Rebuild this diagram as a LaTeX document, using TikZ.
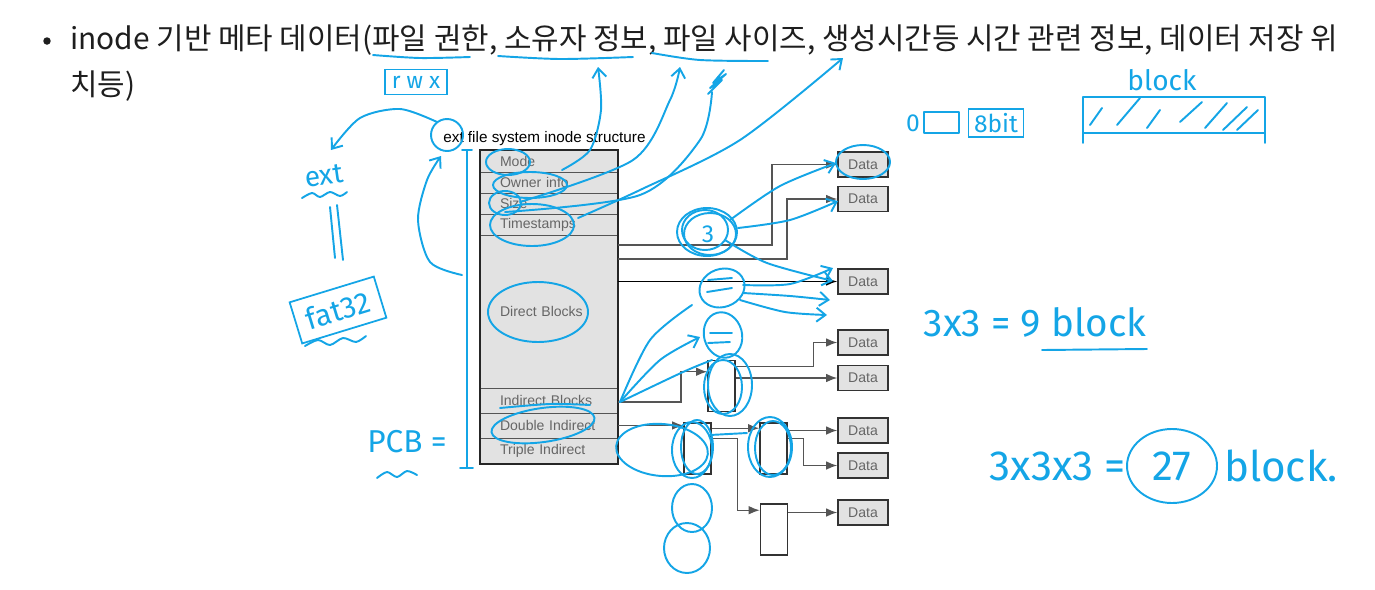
\documentclass[tikz,border=0pt]{standalone}
\usepackage{fontspec}
\setmainfont{Liberation Sans}
\newfontfamily\krfont{Noto Sans CJK KR}
\newfontfamily\handfont{Fira Sans}
\usetikzlibrary{arrows.meta,positioning,fit}
\definecolor{handblue}{RGB}{20,165,230}
\definecolor{rowgray}{RGB}{226,226,226}
\definecolor{linegray}{RGB}{85,85,85}
\definecolor{inktext}{RGB}{30,30,30}
\tikzset{
  inoderow/.style={rectangle,draw=linegray,fill=rowgray,minimum width=2.76cm,outer sep=0pt,
    inner xsep=0.4cm,inner ysep=1pt,text width=1.96cm,align=left,
    font=\fontsize{8}{9}\selectfont,text=black!60},
  databox/.style={rectangle,draw=black!80,line width=0.9pt,fill=rowgray,minimum width=1.0cm,
    minimum height=0.5cm,inner sep=0pt,font=\fontsize{8}{9}\selectfont,text=black!60},
  ptrbox/.style={rectangle,draw=black!80,line width=0.9pt,fill=white,minimum width=0.54cm,
    minimum height=1.02cm,inner sep=0pt},
  conn/.style={draw=linegray,line width=0.7pt,-{Latex[length=2.2mm,width=1.7mm]}},
  hand/.style={draw=handblue,line width=1.1pt,line cap=round,line join=round},
  handarr/.style={hand,-{Straight Barb[length=1.8mm,width=2.8mm]}},
  handtext/.style={text=handblue,inner sep=1pt},
  handbox/.style={handtext,draw=handblue,line width=1pt}
}

\begin{document}
\begin{tikzpicture}[x=0.02cm,y=-0.02cm]
  \useasboundingbox (0,0) rectangle (1375,589);

  % header line
  \node[circle,fill=inktext,inner sep=0pt,minimum size=0.15cm] (bullet) at (47,41) {};
  \node[anchor=west,inner sep=0pt,text=inktext,font=\krfont\fontsize{17}{20}\selectfont] (hdrA) at (70,40)
      {inode 기반 메타 데이터(파일 권한, 소유자 정보, 파일 사이즈, 생성시간등 시간 관련 정보, 데이터 저장 위};
  \node[anchor=west,inner sep=0pt,text=inktext,font=\krfont\fontsize{17}{20}\selectfont] (hdrB) at (70,86) {치등)};

  % inode table
  \node[anchor=base west,inner sep=0pt,font=\fontsize{8.7}{10}\selectfont] (title) at (443,142) {ext file system inode structure};
  \node[inoderow,minimum height=0.44cm,anchor=north west] (mode) at (480,150) {Mode};
  \node[inoderow,minimum height=0.42cm,below=0pt of mode] (owner) {Owner info};
  \node[inoderow,minimum height=0.42cm,below=0pt of owner] (size) {Size};
  \node[inoderow,minimum height=0.42cm,below=0pt of size] (time) {Timestamps};
  \node[inoderow,minimum height=3.06cm,below=0pt of time] (direct) {Direct Blocks};
  \node[inoderow,minimum height=0.5cm,below=0pt of direct] (indirect) {Indirect Blocks};
  \node[inoderow,minimum height=0.5cm,below=0pt of indirect] (double) {Double Indirect};
  \node[inoderow,minimum height=0.52cm,below=0pt of double] (triple) {Triple Indirect};
  \node[draw=black!85,line width=1.3pt,fit=(mode)(triple),inner sep=0pt] (inode) {};

  % data and pointer blocks
  \node[databox] (d1) at (863,164.5) {Data};
  \node[databox] (d2) at (863,199) {Data};
  \node[databox] (d3) at (863,281.5) {Data};
  \node[databox] (d4) at (863,342.5) {Data};
  \node[databox] (d5) at (863,378) {Data};
  \node[databox] (d6) at (863,430.5) {Data};
  \node[databox] (d7) at (863,465.5) {Data};
  \node[databox] (d8) at (863,512.5) {Data};
  \node[ptrbox] (ib) at (721.5,386) {};
  \node[ptrbox] (dbl1) at (697.5,448.5) {};
  \node[ptrbox] (dbl2) at (773.5,448.5) {};
  \node[ptrbox] (dbl3) at (774,529.5) {};

  \draw[conn] ([yshift=-0.2cm]direct.north east) -- ++(154,0) |- (d1.west);
  \draw[conn] ([yshift=-0.48cm]direct.north east) -- ++(169,0) |- (d2.west);
  \draw[conn,draw=black] (direct.east |- d3.west) -- (d3.west);
  \draw[conn] ([yshift=-0.03cm]indirect.east) -- ++(63,0) |- ([yshift=-0.24cm]ib.north west);
  \draw[conn] ([yshift=-0.14cm]ib.north east) -- ++(78,0) |- (d4.west);
  \draw[conn] (ib.east |- d5.west) -- (d5.west);
  \draw[conn] (double.east) -- (double.east -| dbl1.west);
  \draw[conn] ([yshift=-0.12cm]dbl1.north east) -- ([yshift=-0.12cm]dbl2.north west);
  \draw[conn] (dbl2.east |- d6.west) -- (d6.west);
  \draw[conn] ([yshift=-0.32cm]dbl2.north east) -- ++(16,0) |- (d7.west);
  \draw[conn] ([yshift=-0.32cm]dbl1.north east) -- ++(26,0) |- ([yshift=-0.14cm]dbl3.north west);
  \draw[conn] (dbl3.east |- d8.west) -- (d8.west);

  % handwritten notes: header
  \draw[hand] plot[smooth] coordinates {(373,55) (420,58) (470,57)};
  \node[handbox,minimum width=1.24cm,minimum height=0.5cm,font=\handfont\fontsize{13}{13}\selectfont] (rwx) at (416,82) {r w x};
  \draw[hand] plot[smooth] coordinates {(498,56) (560,59) (633,57)};
  \draw[hand] plot[smooth] coordinates {(652,53) (700,60) (768,61)};
  \draw[handarr] plot[smooth] coordinates {(562,170) (590,150) (601,110) (598,67)};
  \draw[handarr] plot[smooth] coordinates {(520,202) (633,160) (670,100) (680,67)};
  \draw[hand] plot[smooth] coordinates {(505,212) (640,195) (700,140) (712,92)};
  \draw[hand] (708,94) -- (722,80) -- (710,88) -- (726,74) -- (713,83) -- (724,70);
  \draw[handarr] plot[smooth] coordinates {(578,218) (640,190) (740,140) (843,58)};

  % circled table rows
  \draw[hand] (508,162) ellipse [x radius=22,y radius=13];
  \draw[hand] (530,185) ellipse [x radius=37,y radius=13];
  \draw[hand] (505,203) ellipse [x radius=16,y radius=12];
  \draw[hand] (532,225) ellipse [x radius=42,y radius=21];
  \draw[hand] (538,312) ellipse [x radius=50,y radius=30];
  \draw[hand] plot[smooth] coordinates {(500,408) (550,404) (590,405)};
  \draw[hand,rotate around={8:(543,425)}] (543,425) ellipse [x radius=52,y radius=17];

  % left side notes
  \draw[hand] (447,135) circle [radius=16];
  \draw[handarr] plot[smooth] coordinates {(437,122) (400,109) (360,118) (331,150)};
  \node[handtext,rotate=8,font=\handfont\fontsize{16}{16}\selectfont] (extnote) at (324,176) {ext};
  \draw[hand] plot[smooth] coordinates {(302,198) (312,193) (320,197) (330,192) (340,196) (347,192)};
  \draw[hand] (330,207) -- (335,258);
  \draw[hand] (337,205) -- (343,260);
  \node[handbox,rotate=17,minimum width=1.76cm,minimum height=0.86cm,font=\handfont\fontsize{17}{17}\selectfont] (fatnote) at (338,310) {fat32};
  \draw[hand] plot[smooth] coordinates {(305,346) (318,340) (330,345) (343,338) (356,342) (366,336)};
  \draw[handarr] plot[smooth] coordinates {(462,275) (430,262) (418,220) (427,180) (441,156)};
  \draw[hand] (467,150) -- (467,468);
  \draw[hand] (462,150) -- (472,150);
  \draw[hand] (460,468) -- (473,468);
  \node[handtext,font=\handfont\fontsize{18}{18}\selectfont] (pcb) at (407,442) {PCB =};
  \draw[hand] plot[smooth] coordinates {(377,478) (387,472) (397,477) (407,471) (417,475)};

  % notes on direct blocks
  \draw[hand] (707,232) ellipse [x radius=30,y radius=24];
  \draw[hand] (710,234) ellipse [x radius=26,y radius=21];
  \draw[hand] (705,230) ellipse [x radius=23,y radius=20];
  \node[handtext,font=\handfont\fontsize{14}{14}\selectfont] (three) at (708,234) {3};
  \draw[handarr] plot[smooth] coordinates {(730,220) (780,186) (836,163)};
  \draw[handarr] plot[smooth] coordinates {(738,228) (790,220) (838,201)};
  \draw[handarr] plot[smooth] coordinates {(725,240) (767,263) (833,281)};
  \draw[hand] (863,162) ellipse [x radius=27,y radius=17];
  \draw[hand,rotate around={20:(722,288)}] (722,288) ellipse [x radius=23,y radius=19];
  \draw[hand] (708,280) -- (732,278);
  \draw[hand] (707,292) -- (732,288);
  \draw[handarr] plot[smooth] coordinates {(743,285) (790,284) (833,268)};
  \draw[handarr] plot[smooth] coordinates {(743,293) (790,296) (830,300)};
  \draw[handarr] plot[smooth] coordinates {(740,300) (785,312) (827,315)};
  \draw[hand,rotate around={15:(723,335)}] (723,335) ellipse [x radius=19,y radius=23];
  \draw[hand] (710,333) -- (732,333);
  \draw[hand] (708,343) -- (730,342);
  \draw[hand] plot[smooth] coordinates {(620,402) (650,340) (692,305)};
  \draw[handarr] plot[smooth] coordinates {(620,402) (660,360) (700,337)};
  \draw[hand] plot[smooth] coordinates {(620,402) (683,372) (712,360)};

  % notes on indirect blocks
  \draw[hand] (723,387) ellipse [x radius=19,y radius=27];
  \draw[hand] (730,385) ellipse [x radius=22,y radius=31];
  \draw[hand] (692,450) ellipse [x radius=20,y radius=28];
  \draw[hand] (697,447) ellipse [x radius=16,y radius=27];
  \draw[hand,rotate around={-5:(662,450)}] (662,450) ellipse [x radius=46,y radius=26];
  \draw[hand] (770,447) ellipse [x radius=22,y radius=30];
  \draw[hand] (773,448) ellipse [x radius=18,y radius=27];
  \draw[hand] (710,435) -- (747,433);
  \draw[hand] (692,508) ellipse [x radius=20,y radius=24];
  \draw[hand] (687,548) ellipse [x radius=23,y radius=25];

  % right side notes
  \node[handtext,font=\handfont\fontsize{14}{14}\selectfont] (zero) at (913,123) {0};
  \draw[hand] (924,112) rectangle (959,133);
  \node[handbox,minimum width=1.1cm,minimum height=0.56cm,font=\handfont\fontsize{14}{14}\selectfont] (bits) at (996,123) {8bit};
  \node[handtext,font=\handfont\fontsize{16}{16}\selectfont] (blocknote) at (1162,80) {block};
  \draw[hand] (1083,97) rectangle (1265,133);
  \draw[hand] (1083,133) -- (1083,143);
  \draw[hand] (1265,133) -- (1265,143);
  \foreach \xa/\ya/\xb/\yb in {1090/125/1102/108, 1117/125/1140/98, 1147/128/1160/110, 1180/122/1202/102,
      1205/128/1227/103, 1223/130/1247/107, 1237/130/1258/110}
    \draw[hand] (\xa,\ya) -- (\xb,\yb);
  \node[handtext,font=\handfont\fontsize{22}{22}\selectfont] (nine) at (1035,322) {3x3 = 9 block};
  \draw[hand] (1042,350) -- (1147,349);
  \node[handtext,anchor=east,font=\handfont\fontsize{24}{24}\selectfont] (prod3) at (1128,466) {3x3x3 =};
  \node[handtext,font=\handfont\fontsize{24}{24}\selectfont] (num27) at (1172,466) {27};
  \node[handtext,anchor=west,font=\handfont\fontsize{24}{24}\selectfont] (blk27) at (1222,466) {block.};
  \draw[hand] (num27.center) ellipse [x radius=45,y radius=37];
\end{tikzpicture}
\end{document}
